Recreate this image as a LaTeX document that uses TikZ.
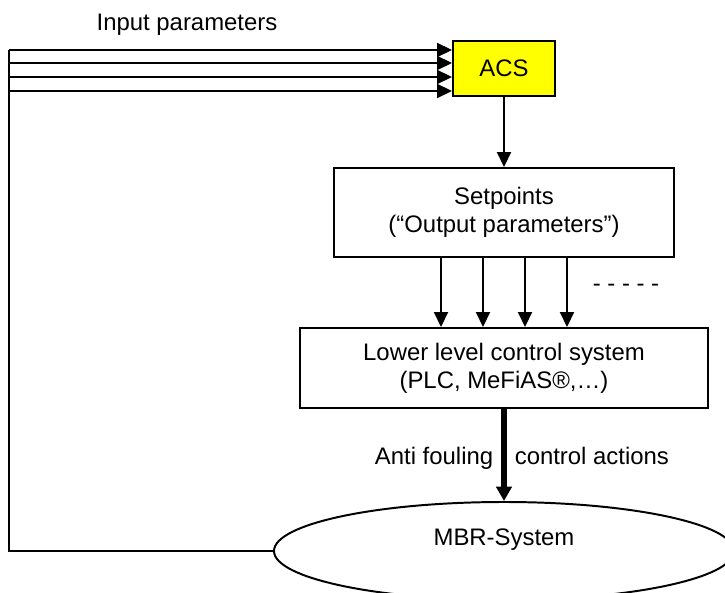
\documentclass[tikz,border=0pt]{standalone}
\usepackage{fontspec}
\setmainfont{Liberation Sans}
\usetikzlibrary{arrows.meta, shapes.geometric, positioning}
\definecolor{acsyellow}{RGB}{255,255,0}

\begin{document}
\begin{tikzpicture}[
    box/.style={draw, line width=1.4pt, minimum width=8.5cm, minimum height=2.225cm,
                align=center, font=\fontsize{17}{19.9}\selectfont},
    arr/.style={-{Triangle[length=0.375cm, width=0.35cm]}, line width=1.4pt},
    fat/.style={-{Triangle[length=0.36cm, width=0.38cm]}, line width=4pt},
    txt/.style={font=\fontsize{17}{19.9}\selectfont}
  ]
  \useasboundingbox (0,0) rectangle (18.125,14.8);
  \node[txt] (inlabel) at (4.675,14.175) {Input parameters};
  \node[box, fill=acsyellow, minimum width=2.55cm, minimum height=1.375cm] (acs) at (12.6,13.0875) {ACS};
  \node[box] (setp) at (12.6,9.4875) {Setpoints\\(“Output parameters”)};
  \node[box, minimum width=10.2cm, minimum height=2cm] (llcs) at (12.6,5.6) {Lower level control system\\(PLC, MeFiAS®,…)};
  \node[draw, ellipse, line width=1.4pt, minimum width=11.5cm, minimum height=2.45cm, inner sep=0pt,
        txt, text height=0.45cm, text depth=0.75cm] (mbr) at (12.6,1.025) {MBR-System};
  \node[txt, anchor=base] (more) at (15.65,7.5125) {- - - - -};

  % feedback from the plant back to the inputs
  \coordinate (fb) at (0.225,13.55);
  \draw[line width=1.4pt] (mbr.west) -| (fb);
  \foreach \y [count=\i] in {13.55,13.225,12.875,12.525} {
    \coordinate (in\i) at (0.225,\y);
    \draw[arr] (in\i) -- (acs.west |- in\i);
  }
  \draw[arr] (acs) -- (setp);
  \foreach \dx in {-1.575,-0.525,0.525,1.575}
    \draw[arr] ([xshift=\dx cm]setp.south) -- ([xshift=\dx cm]llcs.north);
  \draw[fat] (llcs) -- (mbr)
    node[pos=0.606, anchor=base east, txt, inner xsep=0.2cm] {Anti fouling}
    node[pos=0.606, anchor=base west, txt, inner xsep=0.2cm] {control actions};
\end{tikzpicture}
\end{document}
